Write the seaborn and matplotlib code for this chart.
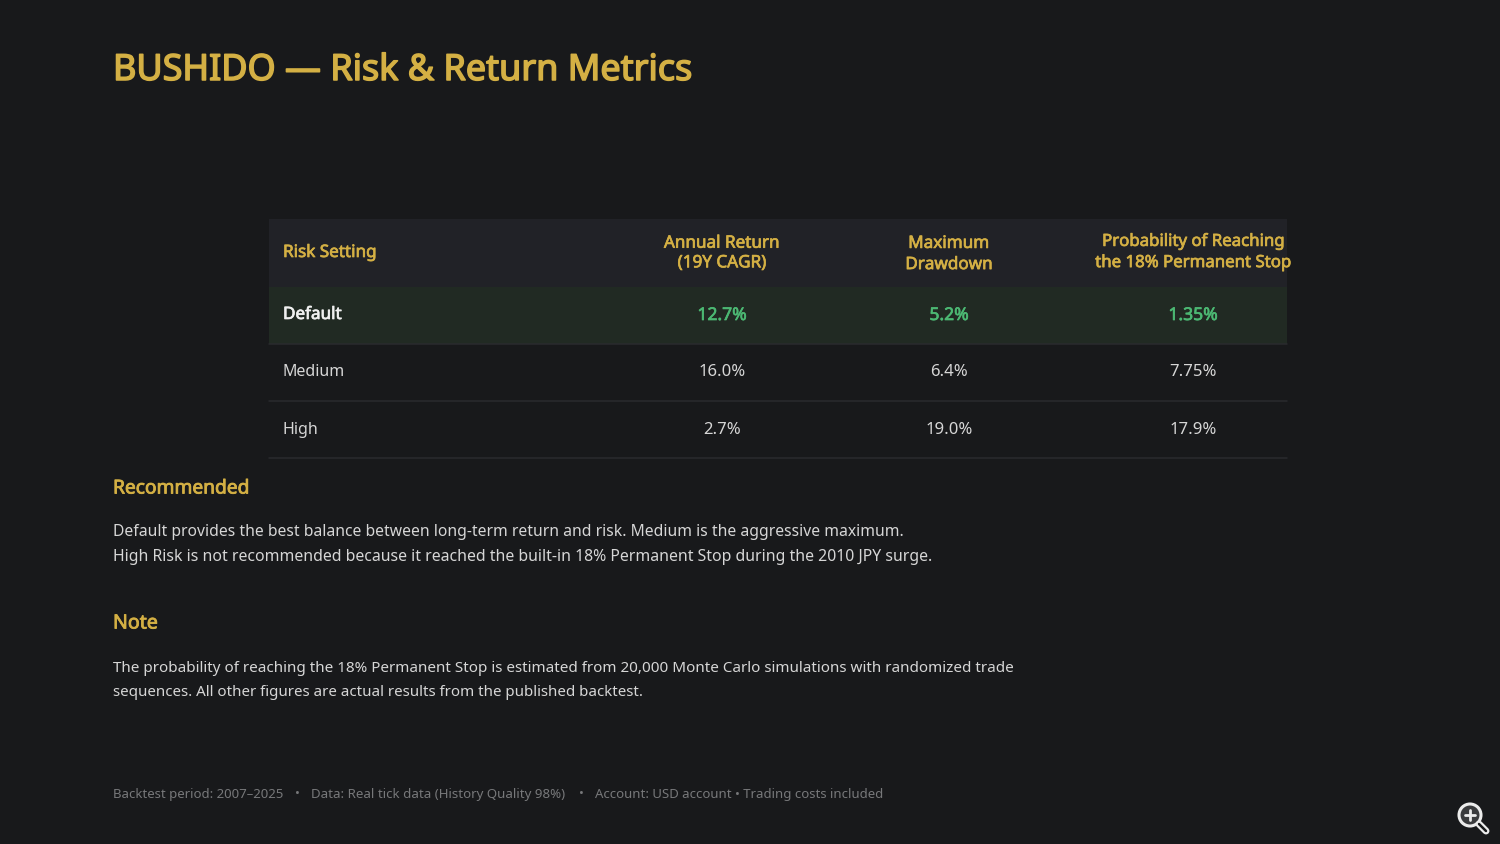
import numpy as np
import pandas as pd
import matplotlib
matplotlib.use("Agg")
import matplotlib.pyplot as plt
import matplotlib.patheffects as pe
from matplotlib.colors import ListedColormap
from matplotlib.patches import Circle
import seaborn as sns

BG = "#18191b"
HEADER_BG = "#212227"
DEFAULT_BG = "#212a23"
LINE = "#2a2b2e"
GOLD = "#d4b044"
GREEN = "#4cb873"
WHITE = "#f0f0f0"
TEXT = "#d6d6d6"
MUTED = "#77787a"

title = "BUSHIDO — Risk & Return Metrics"
columns = ["Risk Setting", "Annual Return\n(19Y CAGR)", "Maximum\nDrawdown",
           "Probability of Reaching\nthe 18% Permanent Stop"]
settings = ["Default", "Medium", "High"]
annual_return = ["12.7%", "16.0%", "2.7%"]
max_drawdown = ["5.2%", "6.4%", "19.0%"]
stop_probability = ["1.35%", "7.75%", "17.9%"]
recommended = ("Default provides the best balance between long-term return and risk. Medium is the aggressive maximum.",
               "High Risk is not recommended because it reached the built-in 18% Permanent Stop during the 2010 JPY surge.")
note = ("The probability of reaching the 18% Permanent Stop is estimated from 20,000 Monte Carlo simulations with randomized trade",
        "sequences. All other figures are actual results from the published backtest.")
footer = ["Backtest period: 2007–2025", "Data: Real tick data (History Quality 98%)",
          "Account: USD account • Trading costs included"]

W, H = 1500, 844
sns.set_theme(style="dark", rc={"figure.facecolor": BG, "axes.facecolor": BG})
plt.rcParams["font.family"] = ["Noto Sans", "DejaVu Sans"]

fig = plt.figure(figsize=(15, 8.44), dpi=100)


def px_axes(x0, y0, x1, y1):
    return fig.add_axes([x0 / W, 1 - y1 / H, (x1 - x0) / W, (y1 - y0) / H])


# table bands: header row, then the three settings (only Default is tinted)
band_cmap = ListedColormap([BG, DEFAULT_BG, HEADER_BG])
head_ax = px_axes(269, 219, 1287, 287)
sns.heatmap(pd.DataFrame([[2] * 4], columns=columns), ax=head_ax, cmap=band_cmap,
            vmin=0, vmax=2, cbar=False, xticklabels=False, yticklabels=False)
body_ax = px_axes(269, 287, 1287, 458)
body = pd.DataFrame({c: [1, 0, 0] for c in columns}, index=settings)
sns.heatmap(body, ax=body_ax, cmap=band_cmap, vmin=0, vmax=2, cbar=False,
            xticklabels=False, yticklabels=False)
body_ax.set(xlabel="", ylabel="")
head_ax.set(xlabel="", ylabel="")
for i in range(1, 4):
    body_ax.axhline(i, color=LINE, lw=1.1, clip_on=False)

# overlay in reference pixels for all the text
ov = fig.add_axes([0, 0, 1, 1], facecolor="none")
ov.set_xlim(0, W)
ov.set_ylim(H, 0)
ov.axis("off")


def put(x, y, s, size, color, bold=0, ha="left", **kw):
    # the installed Noto Sans has no bold face here, so thicken with a stroke
    t = ov.text(x, y, s, fontsize=size, color=color, ha=ha, va="center", clip_on=False, **kw)
    if bold:
        t.set_path_effects([pe.withStroke(linewidth=bold, foreground=color)])
    return t


put(113, 71, title, 25.9, GOLD, bold=1.1)

col_x = [722, 949, 1193]
put(283, 253, columns[0], 12.3, GOLD, bold=0.5)
put(col_x[0], 253.5, columns[1], 12.3, GOLD, bold=0.5, ha="center", linespacing=1.3)
put(col_x[1], 254.5, columns[2], 12.3, GOLD, bold=0.5, ha="center", linespacing=1.43)
put(col_x[2], 252.5, columns[3], 12.1, GOLD, bold=0.5, ha="center", linespacing=1.43)

row_y = [315, 372.5, 429.5]
for i, name in enumerate(settings):
    first = i == 0
    put(283, row_y[i], name, 12.3 if first else 11.5, WHITE if first else TEXT, bold=0.5 if first else 0)
    for x, vals in zip(col_x, [annual_return, max_drawdown, stop_probability]):
        put(x, row_y[i], vals[i], 12.6 if first else 12, GREEN if first else TEXT,
            bold=0.5 if first else 0, ha="center")

put(113, 488.5, "Recommended", 13.8, GOLD, bold=0.6)
put(113, 532, recommended[0], 11.29, TEXT)
put(113, 557, recommended[1], 11.4, TEXT)
put(113, 623.5, "Note", 14.1, GOLD, bold=0.6)
put(113, 668, note[0], 10.95, TEXT)
put(113, 692, note[1], 10.87, TEXT)

put(113, 794.5, footer[0], 9.5, MUTED)
put(297, 793.5, "•", 9.5, MUTED, ha="center")
put(311, 794.5, footer[1], 9.57, MUTED)
put(581, 793.5, "•", 9.5, MUTED, ha="center")
put(595, 794.5, footer[2], 9.5, MUTED)

# zoom icon, bottom right corner
ov.add_patch(Circle((1470, 815), 11, fc="#3a3b3d", ec="#ececec", lw=2.2))
ov.plot([1479, 1486], [824, 831], color="#ececec", lw=5, solid_capstyle="round")
ov.plot([1479, 1486], [824, 831], color="#18191b", lw=1.8, solid_capstyle="round")
ov.plot([1465, 1475], [815, 815], color="#ececec", lw=2)
ov.plot([1470, 1470], [810, 820], color="#ececec", lw=2)

fig.savefig("out.png", dpi=100, facecolor=BG)
